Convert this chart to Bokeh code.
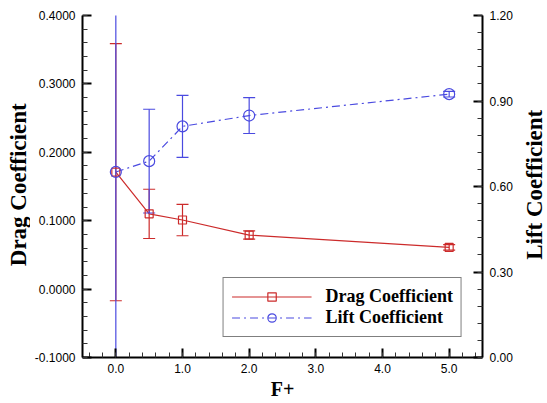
from bokeh.plotting import figure
from bokeh.layouts import row
from bokeh.models import (Range1d, LinearAxis, FixedTicker, PrintfTickFormatter,
                          Legend, LegendItem)
from bokeh.core.properties import value
from bokeh.embed import file_html
from bokeh.resources import INLINE
import math

# ---- data ----
f_plus = [0.0, 0.5, 1.0, 2.0, 5.0]
drag = [0.171, 0.110, 0.101, 0.079, 0.061]
drag_err = [0.188, 0.036, 0.023, 0.006, 0.004]
lift = [0.651, 0.689, 0.811, 0.849, 0.924]
lift_err = [0.80, 0.182, 0.109, 0.063, 0.010]

x_ticks = [0.0, 1.0, 2.0, 3.0, 4.0, 5.0]
drag_ticks = [-0.1, 0.0, 0.1, 0.2, 0.3, 0.4]
lift_ticks = [0.0, 0.3, 0.6, 0.9, 1.2]

x_title = "F+"
drag_title = "Drag Coefficient"
lift_title = "Lift Coefficient"

RED = "#cc2b2b"
BLUE = "#4a4ae0"

x_minor = [round(-0.4 + 0.2 * i, 2) for i in range(30)]
drag_minor = [round(-0.1 + 0.02 * i, 3) for i in range(26)]
lift_minor = [round(0.06 * i, 3) for i in range(21)]

drag_lo = [d - e for d, e in zip(drag, drag_err)]
drag_hi = [d + e for d, e in zip(drag, drag_err)]
lift_lo = [d - e for d, e in zip(lift, lift_err)]
lift_hi = [d + e for d, e in zip(lift, lift_err)]

H = 402
W1 = 30   # left title strip
W2 = 31   # right title strip

p = figure(width=515 - W1, height=H, x_range=Range1d(-0.5, 5.5), y_range=Range1d(-0.1, 0.4),
           output_backend="svg", toolbar_location=None,
           min_border_left=82 - W1, min_border_right=32, min_border_top=15, min_border_bottom=44)
p.extra_y_ranges = {"lift": Range1d(0.0, 1.2)}
p.outline_line_color = None
p.xgrid.visible = False
p.ygrid.visible = False
p.background_fill_color = "white"
p.border_fill_color = "white"

r_axis = LinearAxis(y_range_name="lift")
p.add_layout(r_axis, "right")

p.xaxis.ticker = FixedTicker(ticks=x_ticks, minor_ticks=x_minor)
p.xaxis.formatter = PrintfTickFormatter(format="%.1f")
p.yaxis[0].ticker = FixedTicker(ticks=drag_ticks, minor_ticks=drag_minor)
p.yaxis[0].formatter = PrintfTickFormatter(format="%.4f")
r_axis.ticker = FixedTicker(ticks=lift_ticks, minor_ticks=lift_minor)
r_axis.formatter = PrintfTickFormatter(format="%.2f")

for ax in [p.xaxis[0], p.yaxis[0], r_axis]:
    ax.axis_line_width = 2
    ax.axis_line_color = "black"
    ax.major_tick_line_width = 2
    ax.major_tick_line_color = "black"
    ax.major_tick_in = 9
    ax.major_tick_out = 0
    ax.minor_tick_in = 5
    ax.minor_tick_out = 0
    ax.minor_tick_line_width = 1
    ax.minor_tick_line_color = "#333333"
    ax.major_label_text_font = "Liberation Sans"
    ax.major_label_text_font_size = "12px"
    ax.major_label_text_color = "black"
    ax.major_label_standoff = 7
    ax.axis_label_text_font = "Liberation Serif"
    ax.axis_label_text_font_style = "bold"
    ax.axis_label_text_color = "black"

p.xaxis.axis_label = x_title
p.xaxis.axis_label_text_font_size = "20px"
p.xaxis.axis_label_standoff = 2
p.xaxis.major_label_standoff = 6

# series lines
drag_line = p.line(f_plus, drag, line_color=RED, line_width=1.2)
lift_line = p.line(f_plus, lift, y_range_name="lift", line_color=BLUE, line_width=1.2,
                   line_dash="8 4 2 4")

# error bars
p.segment(x0=f_plus, y0=drag_lo, x1=f_plus, y1=drag_hi, line_color=RED, line_width=1.2)
p.scatter(f_plus + f_plus, drag_lo + drag_hi, marker="dash", size=12,
          line_color=RED, line_width=1.2)
p.segment(x0=f_plus, y0=lift_lo, x1=f_plus, y1=lift_hi, y_range_name="lift",
          line_color=BLUE, line_width=1.2)
p.scatter(f_plus + f_plus, lift_lo + lift_hi, y_range_name="lift", marker="dash", size=12,
          line_color=BLUE, line_width=1.2)

# markers
drag_mk = p.scatter(f_plus, drag, marker="square", size=8, fill_color=None,
                    line_color=RED, line_width=1.2)
lift_mk = p.scatter(f_plus, lift, y_range_name="lift", marker="circle", size=11,
                    fill_color=None, line_color=BLUE, line_width=1.2)

legend = Legend(items=[LegendItem(label=drag_title, renderers=[drag_line, drag_mk]),
                       LegendItem(label=lift_title, renderers=[lift_line, lift_mk])],
                location="bottom_right", margin=20, glyph_width=80, glyph_height=21,
                label_standoff=14, padding=8, spacing=0,
                border_line_color="black", border_line_width=1.5,
                label_text_font="Liberation Serif", label_text_font_style="bold",
                label_text_font_size="18px", label_text_color="black",
                background_fill_alpha=1.0)
p.add_layout(legend)


def title_strip(width, text, cx):
    s = figure(width=width, height=H, x_range=Range1d(0, width), y_range=Range1d(0, H),
               output_backend="svg", toolbar_location=None,
               x_axis_type=None, y_axis_type=None,
               min_border_left=0, min_border_right=0, min_border_top=0, min_border_bottom=0)
    s.outline_line_color = None
    s.background_fill_color = "white"
    s.border_fill_color = "white"
    s.text(x=[cx], y=[H - 199], text=[text], angle=math.pi / 2,
           text_align="center", text_baseline="middle",
           text_font=value("Liberation Serif"), text_font_style="bold",
           text_font_size="23px", text_color="black")
    return s


left_t = title_strip(W1, drag_title, 18)
right_t = title_strip(W2, lift_title, 19)

layout = row(left_t, p, right_t, spacing=0)
open("out.html", "w").write(file_html(layout, INLINE))
